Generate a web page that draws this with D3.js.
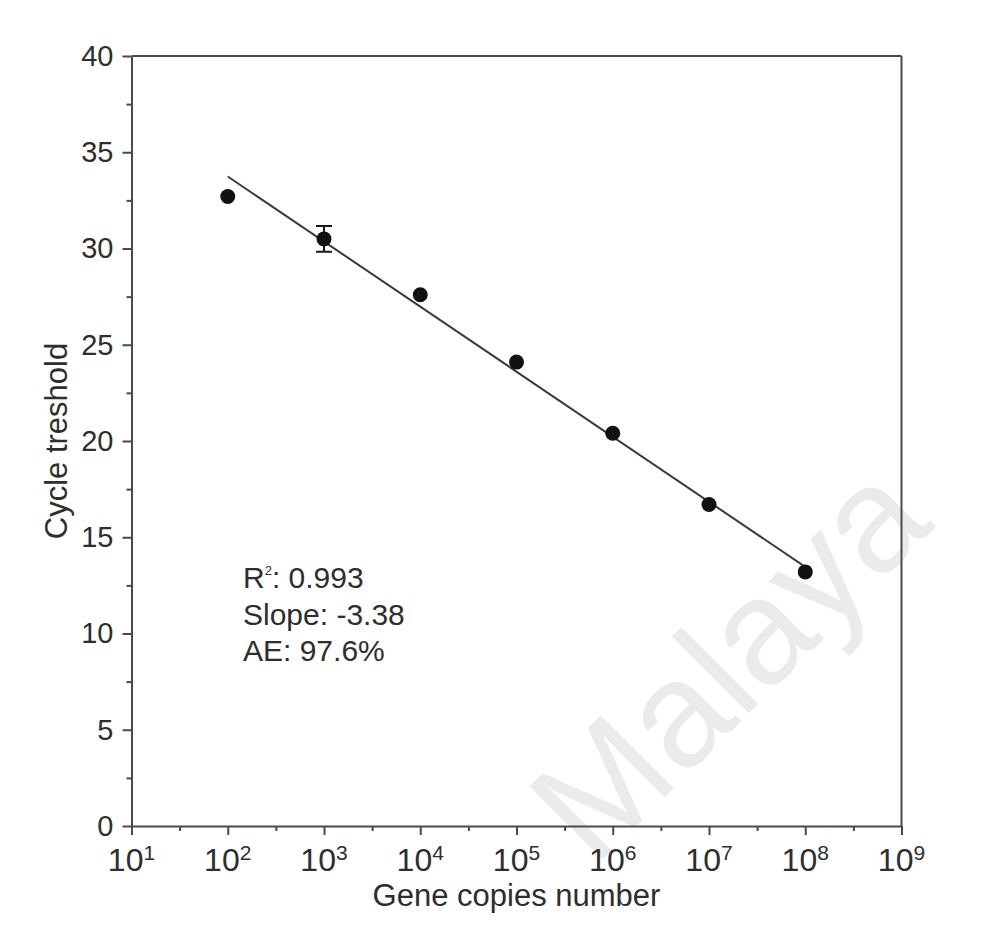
<!DOCTYPE html>
<html>
<head>
<meta charset="utf-8">
<script src="https://cdn.jsdelivr.net/npm/d3@7"></script>
<style>
  html, body { margin: 0; padding: 0; background: #ffffff; }
  svg { display: block; }
  text { font-family: "Liberation Sans", Arial, sans-serif; }
</style>
</head>
<body>
<svg id="chart" width="982" height="933"></svg>
<script>
// ---- data ----
const copies = [1e2, 1e3, 1e4, 1e5, 1e6, 1e7, 1e8];
const ctValues = [32.7, 30.5, 27.6, 24.1, 20.4, 16.7, 13.2];
const ctErrors = [0, 0.67, 0, 0, 0, 0, 0];
const fitSlope = -3.38;
const fitIntercept = 40.5;
const fitRange = [1e2, 1e8];
const xTickExponents = [1, 2, 3, 4, 5, 6, 7, 8, 9];
const xMinorExponents = [1.5, 2.5, 3.5, 4.5, 5.5, 6.5, 7.5, 8.5];
const yTicks = [0, 5, 10, 15, 20, 25, 30, 35, 40];
const yMinorTicks = [2.5, 7.5, 12.5, 17.5, 22.5, 27.5, 32.5, 37.5];
const annotation = [
  { main: "R", sup: "2", rest: ": 0.993" },
  { main: "Slope: -3.38", sup: "", rest: "" },
  { main: "AE: 97.6%", sup: "", rest: "" }
];
const xTitle = "Gene copies number";
const yTitle = "Cycle treshold";
const watermark = "Malaya";

// ---- layout ----
const svg = d3.select("#chart");
const pLeft = 131.5, pRight = 901.5, pTop = 56, pBottom = 826;
const x = d3.scaleLog().domain([1e1, 1e9]).range([pLeft, pRight]);
const y = d3.scaleLinear().domain([0, 40]).range([pBottom, pTop]);
const axisColor = "#4a4a4a";
const textColor = "#2e2e2e";

svg.append("rect").attr("width", 982).attr("height", 933).attr("fill", "#ffffff");

// watermark
svg.append("text")
  .attr("transform", "translate(936,526) rotate(-45)")
  .attr("text-anchor", "end")
  .attr("font-size", 150)
  .attr("fill", "#ebebeb")
  .text(watermark);

// frame (top & right)
svg.append("line").attr("x1", pLeft).attr("x2", pRight).attr("y1", pTop).attr("y2", pTop)
  .attr("stroke", axisColor).attr("stroke-width", 2);
svg.append("line").attr("x1", pRight).attr("x2", pRight).attr("y1", pTop).attr("y2", pBottom)
  .attr("stroke", axisColor).attr("stroke-width", 2);

// x axis
const gx = svg.append("g").attr("transform", `translate(0,${pBottom})`);
gx.call(d3.axisBottom(x).tickValues(xTickExponents.map(e => Math.pow(10, e)))
  .tickSize(9).tickSizeOuter(0).tickFormat(() => ""));
const gxm = svg.append("g").attr("transform", `translate(0,${pBottom})`);
gxm.call(d3.axisBottom(x).tickValues(xMinorExponents.map(e => Math.pow(10, e)))
  .tickSize(5).tickSizeOuter(0).tickFormat(() => ""));
gxm.select(".domain").remove();

// x tick labels with superscript
const xl = svg.append("g").selectAll("text").data(xTickExponents).join("text")
  .attr("x", e => x(Math.pow(10, e)))
  .attr("y", 871)
  .attr("text-anchor", "middle")
  .attr("fill", textColor)
  .attr("font-size", 32);
xl.append("tspan").text("10");
xl.append("tspan").attr("font-size", 21).attr("dy", -11).text(e => e);

// y axis
const gy = svg.append("g").attr("transform", `translate(${pLeft},0)`);
gy.call(d3.axisLeft(y).tickValues(yTicks).tickSize(9).tickSizeOuter(0).tickPadding(9)
  .tickFormat(d3.format("d")));
const gym = svg.append("g").attr("transform", `translate(${pLeft},0)`);
gym.call(d3.axisLeft(y).tickValues(yMinorTicks).tickSize(5).tickSizeOuter(0).tickFormat(() => ""));
gym.select(".domain").remove();

[gx, gxm, gy, gym].forEach(g => {
  g.selectAll(".domain").attr("stroke", axisColor).attr("stroke-width", 2);
  g.selectAll(".tick line").attr("stroke", axisColor).attr("stroke-width", 2);
});
gy.selectAll(".tick text").attr("font-size", 29).attr("fill", textColor)
  .attr("font-family", "Liberation Sans, Arial, sans-serif");

// axis titles
svg.append("text").attr("x", (pLeft + pRight) / 2).attr("y", 906)
  .attr("text-anchor", "middle").attr("font-size", 31).attr("fill", textColor).text(xTitle);
svg.append("text").attr("transform", `translate(67,${(pTop + pBottom) / 2}) rotate(-90)`)
  .attr("text-anchor", "middle").attr("font-size", 31).attr("fill", textColor).text(yTitle);

// fit line
const line = d3.line().x(d => x(d)).y(d => y(fitIntercept + fitSlope * Math.log10(d)));
svg.append("path").datum(fitRange).attr("d", line)
  .attr("fill", "none").attr("stroke", "#3a3a3a").attr("stroke-width", 2);

// error bars
const pts = copies.map((c, i) => ({ c, v: ctValues[i], e: ctErrors[i] }));
const eb = svg.append("g").attr("stroke", "#1a1a1a").attr("stroke-width", 2);
pts.filter(p => p.e > 0).forEach(p => {
  eb.append("line").attr("x1", x(p.c)).attr("x2", x(p.c)).attr("y1", y(p.v - p.e)).attr("y2", y(p.v + p.e));
  eb.append("line").attr("x1", x(p.c) - 8).attr("x2", x(p.c) + 8).attr("y1", y(p.v - p.e)).attr("y2", y(p.v - p.e));
  eb.append("line").attr("x1", x(p.c) - 8).attr("x2", x(p.c) + 8).attr("y1", y(p.v + p.e)).attr("y2", y(p.v + p.e));
});

// points
svg.append("g").selectAll("circle").data(pts).join("circle")
  .attr("cx", p => x(p.c)).attr("cy", p => y(p.v)).attr("r", 7.5).attr("fill", "#111111");

// annotation
const ann = svg.append("g").selectAll("text").data(annotation).join("text")
  .attr("x", 243).attr("y", (d, i) => 588 + i * 36.5)
  .attr("font-size", 30).attr("fill", textColor);
ann.append("tspan").text(d => d.main);
ann.append("tspan").attr("font-size", 13).attr("dy", -13).text(d => d.sup);
ann.append("tspan").attr("dy", d => d.sup ? 13 : 0).text(d => d.rest);
</script>
</body>
</html>
